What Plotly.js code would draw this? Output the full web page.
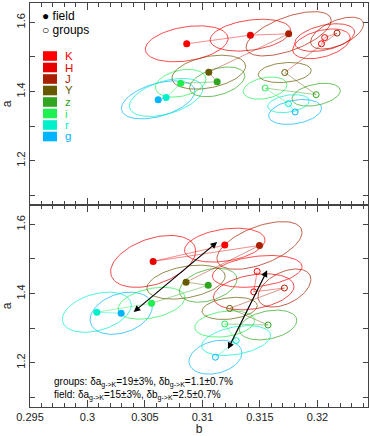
<!DOCTYPE html>
<html>
<head>
<meta charset="utf-8">
<script src="https://cdn.plot.ly/plotly-3.0.1.min.js"></script>
<style>
  body { margin: 0; background: #fff; }
  #chart { width: 370px; height: 436px; }
</style>
</head>
<body>
<div id="chart"></div>
<script>
// bands, ordered along the connecting line (g -> K)
const bands = ['g', 'r', 'i', 'z', 'Y', 'J', 'H', 'K'];
const bandColors = ['#00b4ff', '#00f0cc', '#1ef050', '#30a520', '#665a00', '#a82000', '#e60000', '#ff0000'];

// upper panel: field (filled) and groups (open)
const topFieldB = [0.30615, 0.30684, 0.30811, 0.31128, 0.31055, 0.31750, 0.31417, 0.30863];
const topFieldA = [1.376, 1.383, 1.424, 1.428, 1.456, 1.567, 1.563, 1.538];
const topFieldSb = [0.0032, 0.0032, 0.0022, 0.0024, 0.0032, 0.0037, 0.0035, 0.0036];
const topFieldSa = [0.055, 0.055, 0.040, 0.043, 0.049, 0.064, 0.046, 0.052];
const topFieldRho = [0.45, 0.45, 0.3, 0.4, 0.35, 0.6, 0.3, 0.3];

const topGroupB = [0.31806, 0.31748, 0.31545, 0.31989, 0.31716, 0.32171, 0.32063, 0.32035];
const topGroupA = [1.341, 1.365, 1.410, 1.391, 1.455, 1.569, 1.556, 1.538];
const topGroupSb = [0.0023, 0.0018, 0.0019, 0.0021, 0.0023, 0.0023, 0.0026, 0.0025];
const topGroupSa = [0.036, 0.026, 0.032, 0.033, 0.029, 0.046, 0.040, 0.043];
const topGroupRho = [0.3, 0.3, 0.3, 0.35, 0.2, 0.55, 0.4, 0.4];

// lower panel
const botFieldB = [0.30293, 0.30081, 0.30557, 0.31050, 0.30857, 0.31496, 0.30571, 0.31194];
const botFieldA = [1.343, 1.346, 1.372, 1.424, 1.433, 1.539, 1.493, 1.540];
const botFieldSb = [0.0027, 0.0030, 0.0029, 0.0025, 0.0034, 0.0037, 0.0037, 0.0035];
const botFieldSa = [0.061, 0.058, 0.046, 0.049, 0.049, 0.069, 0.075, 0.049];
const botFieldRho = [0.3, 0.35, 0.35, 0.35, 0.35, 0.55, 0.4, 0.3];

const botGroupB = [0.31113, 0.31293, 0.31194, 0.31571, 0.31237, 0.31713, 0.31446, 0.31476];
const botGroupA = [1.216, 1.264, 1.312, 1.309, 1.357, 1.416, 1.405, 1.464];
const botGroupSb = [0.0023, 0.0030, 0.0026, 0.0025, 0.0024, 0.0023, 0.0035, 0.0039];
const botGroupSa = [0.049, 0.043, 0.038, 0.043, 0.032, 0.055, 0.052, 0.046];
const botGroupRho = [0.25, 0.35, 0.25, 0.3, 0.25, 0.45, 0.3, 0.3];

// g -> K shift arrows (start b, start a, end b, end a)
const arrowField = [0.30389, 1.343, 0.31128, 1.549];
const arrowGroup = [0.31215, 1.235, 0.31563, 1.467];

const legendOrder = ['K', 'H', 'J', 'Y', 'z', 'i', 'r', 'g'];
const noteGroups = 'groups: δa<sub>g->K</sub>=19±3%, δb<sub>g->K</sub>=1.1±0.7%';
const noteField = 'field: δa<sub>g->K</sub>=15±3%, δb<sub>g->K</sub>=2.5±0.7%';

function ellipse(b0, a0, sb, sa, rho) {
    const xs = [], ys = [];
    const s = Math.sqrt(1 - rho * rho);
    for (let k = 0; k <= 90; k++) {
        const t = 2 * Math.PI * k / 90;
        xs.push(b0 + sb * Math.cos(t));
        ys.push(a0 + sa * (rho * Math.cos(t) + s * Math.sin(t)));
    }
    return { xs, ys };
}

const data = [];

function addSet(B, A, Sb, Sa, Rho, filled, xa, ya) {
    // error ellipses
    B.forEach((b, k) => {
        const e = ellipse(b, A[k], Sb[k], Sa[k], Rho[k]);
        data.push({
            x: e.xs, y: e.ys, xaxis: xa, yaxis: ya, mode: 'lines',
            line: { color: bandColors[k], width: 1 }, opacity: 0.7,
            hoverinfo: 'skip', showlegend: false
        });
    });
    // connecting line g -> K
    for (let k = 0; k < B.length - 1; k++) {
        data.push({
            x: [B[k], B[k + 1]], y: [A[k], A[k + 1]], xaxis: xa, yaxis: ya, mode: 'lines',
            line: { color: bandColors[k + 1], width: 1 }, opacity: 0.45,
            hoverinfo: 'skip', showlegend: false
        });
    }
    // points
    data.push({
        x: B, y: A, xaxis: xa, yaxis: ya, mode: 'markers', text: bands,
        marker: filled
            ? { symbol: 'circle', size: 7, color: bandColors }
            : { symbol: 'circle-open', size: 6, color: bandColors, line: { width: 1 } },
        showlegend: false
    });
}

addSet(topFieldB, topFieldA, topFieldSb, topFieldSa, topFieldRho, true, 'x2', 'y2');
addSet(topGroupB, topGroupA, topGroupSb, topGroupSa, topGroupRho, false, 'x2', 'y2');
addSet(botFieldB, botFieldA, botFieldSb, botFieldSa, botFieldRho, true, 'x', 'y');
addSet(botGroupB, botGroupA, botGroupSb, botGroupSa, botGroupRho, false, 'x', 'y');

const font = { family: 'Liberation Sans, Arial, sans-serif', size: 11, color: '#222' };
const xRange = [0.295, 0.3244];
const yRange = [1.072, 1.656];

const xBase = {
    range: xRange, showgrid: false, zeroline: false, showline: true, linecolor: '#444', linewidth: 1,
    mirror: 'ticks', ticks: 'inside', ticklen: 7, tickcolor: '#444', tick0: 0.295, dtick: 0.005,
    minor: { ticks: 'inside', ticklen: 4, dtick: 0.001, tickcolor: '#444' }
};
const yBase = {
    range: yRange, showgrid: false, zeroline: false, showline: true, linecolor: '#444', linewidth: 1,
    mirror: 'ticks', ticks: 'inside', ticklen: 5, tickcolor: '#444', tick0: 1.2, dtick: 0.2,
    minor: { ticks: 'inside', ticklen: 5, dtick: 0.1, tickcolor: '#444' },
    tickangle: -90, title: { text: 'a', standoff: 4, font: { size: 12 } }
};

const annotations = [];
const shapes = [];
const px = v => (v - 30) / 338;
const py = v => (407 - v) / 404;

annotations.push({ xref: 'paper', yref: 'paper', x: px(41), y: py(16), xanchor: 'left', yanchor: 'middle',
    text: '● field', showarrow: false, borderpad: 0, font: { family: font.family, size: 12, color: '#000' } });
annotations.push({ xref: 'paper', yref: 'paper', x: px(41), y: py(30), xanchor: 'left', yanchor: 'middle',
    text: '○ groups', showarrow: false, borderpad: 0, font: { family: font.family, size: 12, color: '#000' } });

legendOrder.forEach((bnd, r) => {
    const col = bandColors[bands.indexOf(bnd)];
    const yc = 56 + r * 11.5;
    shapes.push({ type: 'rect', xref: 'paper', yref: 'paper', x0: px(43), x1: px(57),
        y0: py(yc + 4.8), y1: py(yc - 4.8), fillcolor: col, line: { width: 0 } });
    annotations.push({ xref: 'paper', yref: 'paper', x: px(64), y: py(yc), xanchor: 'left', yanchor: 'middle',
        text: bnd, showarrow: false, borderpad: 0, font: { family: font.family, size: 11.5, color: col } });
});

[arrowField, arrowGroup].forEach(ar => {
    annotations.push({ xref: 'x', yref: 'y', axref: 'x', ayref: 'y', x: ar[2], y: ar[3], ax: ar[0], ay: ar[1],
        text: '', showarrow: true, arrowhead: 2, startarrowhead: 2, arrowside: 'end+start',
        arrowsize: 1.1, startarrowsize: 1.1, arrowwidth: 1.2, arrowcolor: '#000' });
});

annotations.push({ xref: 'paper', yref: 'paper', x: px(53), y: py(382), xanchor: 'left', yanchor: 'middle',
    text: noteGroups, showarrow: false, borderpad: 0, font: { family: font.family, size: 10, color: '#000' } });
annotations.push({ xref: 'paper', yref: 'paper', x: px(53), y: py(395), xanchor: 'left', yanchor: 'middle',
    text: noteField, showarrow: false, borderpad: 0, font: { family: font.family, size: 10, color: '#000' } });

const layout = {
    width: 370, height: 436,
    margin: { l: 30, r: 2, t: 3, b: 29 },
    paper_bgcolor: '#fff', plot_bgcolor: '#fff',
    font: font, showlegend: false,
    xaxis: Object.assign({}, xBase, { anchor: 'y', title: { text: 'b', standoff: 2, font: { size: 12 } } }),
    yaxis: Object.assign({}, yBase, { domain: [0, 0.5], anchor: 'x' }),
    xaxis2: Object.assign({}, xBase, { anchor: 'y2', showticklabels: false }),
    yaxis2: Object.assign({}, yBase, { domain: [0.5, 1], anchor: 'x2' }),
    annotations: annotations,
    shapes: shapes
};

Plotly.newPlot('chart', data, layout, { displayModeBar: false, staticPlot: true });
</script>
</body>
</html>
